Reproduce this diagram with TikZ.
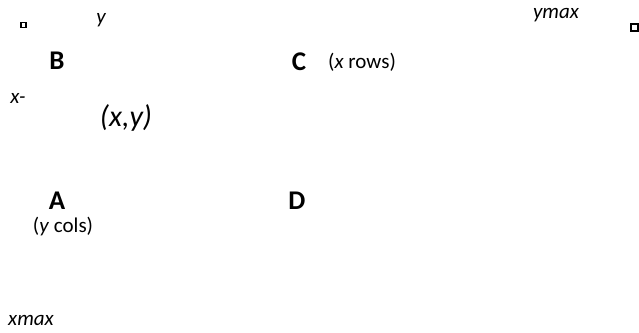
\documentclass[tikz,border=0pt]{standalone}
\usepackage{fontspec}
\setmainfont{Carlito}
\begin{document}
\begin{tikzpicture}[x=1pt,y=-1pt,
  lbl/.style={inner sep=0pt,anchor=center},
  big/.style={lbl,font=\fontsize{27}{29}\selectfont\bfseries},
  small/.style={lbl,font=\fontsize{21}{23}\selectfont},
  ital/.style={lbl,font=\fontsize{21}{23}\selectfont\itshape},
  pt/.style={draw=black,fill=white}]
\useasboundingbox (0,0) rectangle (639,332);
\node[pt,line width=1.2pt,minimum size=5pt,inner sep=0pt] (sqL) at (23.5,25) {};
\node[pt,line width=2pt,minimum size=7pt,inner sep=0pt] (sqR) at (634,27) {};
\node[ital] (ylab) at (101,20) {y};
\node[ital] (ymax) at (556,15) {ymax};
\node[big] (B) at (57,61) {B};
\node[big] (C) at (299,62) {C};
\node[small] (xrows) at (362,62) {(\textit{x} rows)};
\node[ital] (xminus) at (18,98) {x-};
\node[lbl,font=\fontsize{30}{32}\selectfont\itshape] (xy) at (126,118) {(x,y)};
\node[big] (A) at (57,201) {A};
\node[small] (ycols) at (63,227) {(\textit{y} cols)};
\node[big] (D) at (297,201) {D};
\node[ital] (xmax) at (31,320) {xmax};
\end{tikzpicture}
\end{document}
